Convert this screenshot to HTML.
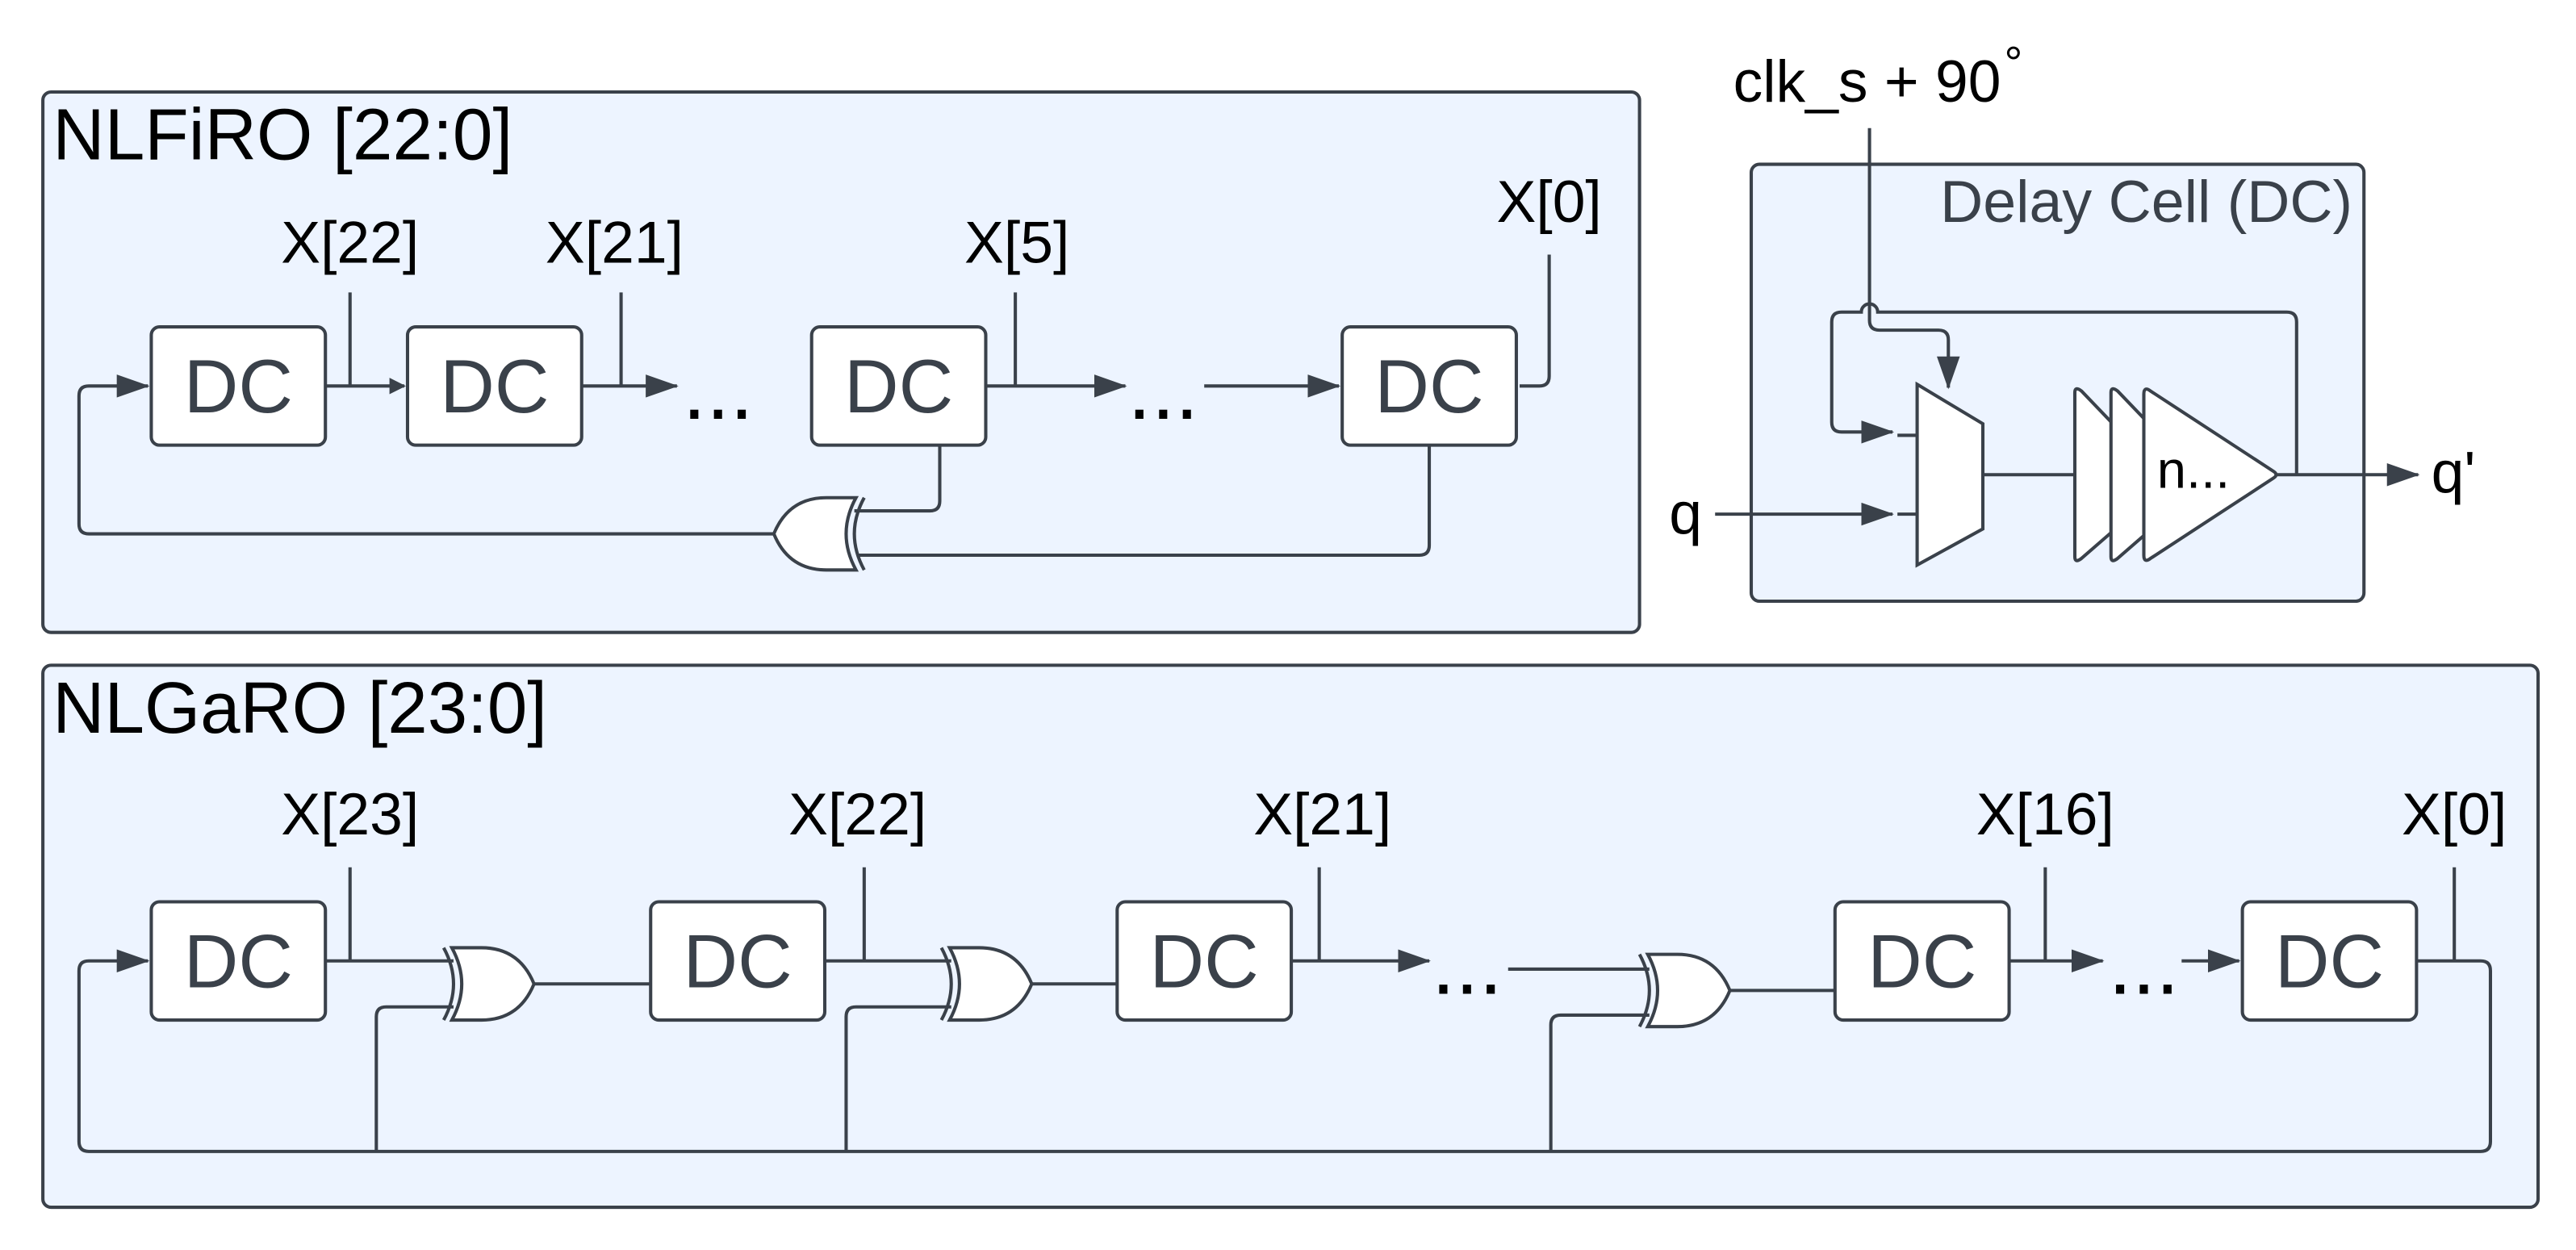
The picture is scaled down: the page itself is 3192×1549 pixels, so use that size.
<!DOCTYPE html>
<html><head><meta charset="utf-8"><style>
html,body{margin:0;padding:0;background:#fff;}
svg{display:block;}
text{font-family:"Liberation Sans",sans-serif;}
</style></head><body>
<svg width="3192" height="1549" viewBox="0 0 1568 761" xmlns="http://www.w3.org/2000/svg">
<defs>
<marker id="a" markerWidth="10" markerHeight="10" refX="9" refY="5" orient="auto" markerUnits="userSpaceOnUse" viewBox="0 0 10 10"><path d="M0,0 L10,5 L0,10 Z" fill="#3a414a"/></marker>
<marker id="ab" markerWidth="20" markerHeight="14" refX="19" refY="7" orient="auto" markerUnits="userSpaceOnUse" viewBox="0 0 20 14"><path d="M0,0 L20,7 L0,14 Z" fill="#3a414a"/></marker>
<g id="xor">
<path d="M0,-22 L18,-22 Q41,-22 50,0 Q41,22 18,22 L0,22 Q12,0 0,-22 Z" fill="#fff" stroke="#3a414a" stroke-width="2"/>
<path d="M-5,-22 Q7,0 -5,22" fill="none" stroke="#3a414a" stroke-width="2"/>
</g>
</defs>
<g stroke="#3a414a" stroke-width="2" fill="none">
<rect x="26" y="56" width="972" height="329" rx="5" fill="#edf4ff"/>
<rect x="1066" y="100" width="373" height="266" rx="5" fill="#edf4ff"/>
<rect x="26" y="405" width="1519" height="330" rx="5" fill="#edf4ff"/>
</g>
<g fill="#fff" stroke="#3a414a" stroke-width="2">
<rect x="92" y="199" width="106" height="72" rx="5"/>
<rect x="248" y="199" width="106" height="72" rx="5"/>
<rect x="494" y="199" width="106" height="72" rx="5"/>
<rect x="817" y="199" width="106" height="72" rx="5"/>
<rect x="92" y="549" width="106" height="72" rx="5"/>
<rect x="396" y="549" width="106" height="72" rx="5"/>
<rect x="680" y="549" width="106" height="72" rx="5"/>
<rect x="1117" y="549" width="106" height="72" rx="5"/>
<rect x="1365" y="549" width="106" height="72" rx="5"/>
</g>
<g font-size="46" fill="#3a414a" text-anchor="middle">
<text x="145" y="251">DC</text><text x="301" y="251">DC</text><text x="547" y="251">DC</text><text x="870" y="251">DC</text>
<text x="145" y="601">DC</text><text x="449" y="601">DC</text><text x="733" y="601">DC</text><text x="1170" y="601">DC</text><text x="1418" y="601">DC</text>
</g>
<g fill="#000" font-size="44">
<text x="32" y="97" textLength="280" lengthAdjust="spacingAndGlyphs">NLFiRO [22:0]</text>
<text x="32" y="446" textLength="301" lengthAdjust="spacingAndGlyphs">NLGaRO [23:0]</text>
</g>
<g fill="#000" font-size="36" text-anchor="middle">
<text x="213" y="160">X[22]</text><text x="374" y="160">X[21]</text><text x="619" y="160">X[5]</text><text x="943" y="135">X[0]</text>
<text x="213" y="508">X[23]</text><text x="522" y="508">X[22]</text><text x="805" y="508">X[21]</text><text x="1245" y="508">X[16]</text><text x="1494" y="508">X[0]</text>
</g>
<g fill="#000" font-size="52" text-anchor="middle">
<text x="437" y="255">...</text><text x="708" y="255">...</text>
<text x="893" y="605">...</text><text x="1305" y="605">...</text>
</g>
<g stroke="#3a414a" stroke-width="2" fill="none">
<line x1="213" y1="178" x2="213" y2="235"/><line x1="378" y1="178" x2="378" y2="235"/><line x1="618" y1="178" x2="618" y2="235"/>
<path d="M943,155 L943,229 Q943,235 937,235 L925,235"/>
<line x1="198" y1="235" x2="246" y2="235" marker-end="url(#a)"/>
<line x1="354" y1="235" x2="412" y2="235" marker-end="url(#ab)"/>
<line x1="600" y1="235" x2="685" y2="235" marker-end="url(#ab)"/>
<line x1="733" y1="235" x2="815" y2="235" marker-end="url(#ab)"/>
<path d="M471,325 L54,325 Q48,325 48,319 L48,241 Q48,235 54,235 L90,235" marker-end="url(#ab)"/>
<path d="M572,271 L572,305 Q572,311 566,311 L520,311"/>
<path d="M870,271 L870,332 Q870,338 864,338 L522,338"/>
</g>
<use href="#xor" transform="translate(521,325) scale(-1,1)"/>
<g stroke="#3a414a" stroke-width="2" fill="none">
<line x1="213" y1="528" x2="213" y2="585"/><line x1="526" y1="528" x2="526" y2="585"/><line x1="803" y1="528" x2="803" y2="585"/><line x1="1245" y1="528" x2="1245" y2="585"/><line x1="1494" y1="528" x2="1494" y2="585"/>
<line x1="198" y1="585" x2="276" y2="585"/>
<path d="M229,701 L229,619 Q229,613 235,613 L276,613"/>
<line x1="325" y1="599" x2="396" y2="599"/>
<line x1="502" y1="585" x2="579" y2="585"/>
<path d="M515,701 L515,619 Q515,613 521,613 L579,613"/>
<line x1="628" y1="599" x2="680" y2="599"/>
<line x1="786" y1="585" x2="870" y2="585" marker-end="url(#ab)"/>
<line x1="918" y1="590" x2="1004" y2="590"/>
<path d="M944,701 L944,624 Q944,618 950,618 L1004,618"/>
<line x1="1053" y1="603" x2="1117" y2="603"/>
<line x1="1223" y1="585" x2="1280" y2="585" marker-end="url(#ab)"/>
<line x1="1328" y1="585" x2="1363" y2="585" marker-end="url(#ab)"/>
<path d="M1471,585 L1510,585 Q1516,585 1516,591 L1516,695 Q1516,701 1510,701 L54,701 Q48,701 48,695 L48,591 Q48,585 54,585 L90,585" marker-end="url(#ab)"/>
</g>
<use href="#xor" transform="translate(275,599)"/>
<use href="#xor" transform="translate(578,599)"/>
<use href="#xor" transform="translate(1003,603)"/>
<text x="1432" y="135" font-size="36" fill="#3a414a" text-anchor="end" textLength="251" lengthAdjust="spacingAndGlyphs">Delay Cell (DC)</text>
<text x="1055" y="62" font-size="36" fill="#000">clk_s + 90</text>
<text x="1220" y="48" font-size="28" fill="#000">°</text>
<text x="1016" y="325" font-size="36" fill="#000">q</text>
<text x="1480" y="300" font-size="36" fill="#000">q'</text>
<g stroke="#3a414a" stroke-width="2" fill="none">
<path d="M1138,78 L1138,195 Q1138,201 1144,201 L1180,201 Q1186,201 1186,207 L1186,236" marker-end="url(#ab)"/>
<path d="M1398,289 L1398,196 Q1398,190 1392,190 L1143,190 A5,5 0 0 0 1133,190 L1121,190 Q1115,190 1115,196 L1115,257 Q1115,263 1121,263 L1152,263" marker-end="url(#ab)"/>
<line x1="1044" y1="313" x2="1152" y2="313" marker-end="url(#ab)"/>
<line x1="1155" y1="265" x2="1167" y2="265"/><line x1="1155" y1="313" x2="1167" y2="313"/>
<path d="M1167,234 L1207,258 L1207,322 L1167,344 Z" fill="#fff"/>
<line x1="1207" y1="289" x2="1263" y2="289"/>
<path d="M1263,239 Q1263,235 1267,238 L1290,262 L1290,320 L1267,340 Q1263,343 1263,339 Z" fill="#fff"/>
<path d="M1285,239 Q1285,235 1289,238 L1312,262 L1312,320 L1289,340 Q1285,343 1285,339 Z" fill="#fff"/>
<path d="M1305,240 Q1305,235 1309,238 L1384,287 Q1387,289 1384,291 L1309,340 Q1305,343 1305,338 Z" fill="#fff"/>
<line x1="1385" y1="289" x2="1472" y2="289" marker-end="url(#ab)"/>
</g>
<text x="1313" y="297" font-size="32" fill="#000">n...</text>
</svg>
</body></html>
